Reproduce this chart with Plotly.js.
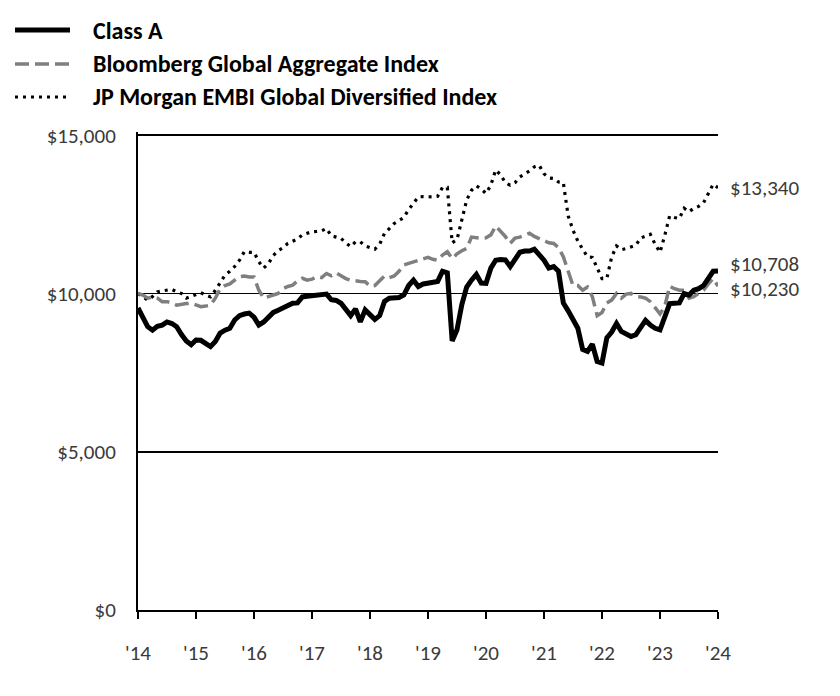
<!DOCTYPE html>
<html>
<head>
<meta charset="utf-8">
<script src="https://cdn.plot.ly/plotly-3.0.1.min.js"></script>
<style>html,body{margin:0;padding:0;background:#fff;}#chart{width:840px;height:696px;}</style>
</head>
<body>
<div id="chart"></div>
<script>
// Tick labels (one per year, 12 months apart)
const yearLabels = ["'14","'15","'16","'17","'18","'19","'20","'21","'22","'23","'24"];
const yTickVals = [0, 5000, 10000, 15000];
const yTickText = ["$0", "$5,000", "$10,000", "$15,000"];
const seriesNames = ["Class A", "Bloomberg Global Aggregate Index", "JP Morgan EMBI Global Diversified Index"];

// Growth of $10,000, monthly, Jan 2014 to Jan 2024
const classA = [
9540,9250,8950,8840,8960,9000,9100,9050,8950,8700,8500,8380,
8530,8520,8400,8320,8480,8750,8840,8900,9160,9300,9350,9380,
9250,9000,9100,9230,9400,9470,9550,9630,9690,9700,9890,9910,
9930,9950,9960,9980,9800,9780,9690,9500,9300,9510,9100,9480,
9350,9180,9300,9750,9850,9880,9870,9950,10250,10420,10220,10300,
10340,10370,10380,10700,10650,8500,8850,9650,10200,10420,10600,10330,
10320,10800,11050,11070,11060,10850,11050,11300,11340,11340,11400,11250,
11050,10800,10850,10700,9700,9450,9150,8900,8230,8170,8400,7850,
7800,8600,8780,9050,8800,8700,8640,8700,8950,9150,9000,8900,
8850,9300,9680,9690,9700,10000,9950,10100,10150,10250,10470,10700,
10708];

const bloomberg = [
10000,9950,9850,9880,9850,9740,9740,9700,9630,9660,9680,9690,
9640,9580,9600,9630,9850,10150,10250,10300,10420,10530,10550,10520,
10520,10100,9850,9890,9950,10000,10150,10220,10260,10400,10480,10420,
10450,10530,10500,10630,10560,10650,10560,10470,10420,10390,10380,10370,
10230,10250,10400,10550,10500,10550,10700,10900,10950,11000,11050,11100,
11140,11080,11050,11210,11320,11100,11250,11350,11420,11780,11760,11740,
11760,11850,12130,11980,11800,11580,11750,11780,11850,11900,11800,11730,
11650,11600,11580,11450,11160,10700,10250,10250,10100,10200,9900,9300,
9400,9700,9790,10000,9850,9980,10000,9900,9890,9850,9740,9550,
9350,9600,10230,10150,10100,10100,9850,9900,10000,10100,10300,10470,
10230];

const jpMorgan = [
10000,9900,9790,9900,10050,10080,10100,10130,10050,10000,9850,9900,
9950,10020,9950,9890,10100,10350,10580,10700,10850,11050,11320,11300,
11300,11000,10800,10950,11200,11350,11440,11580,11650,11720,11850,11900,
11950,11960,11980,12050,11820,11780,11740,11600,11480,11630,11630,11500,
11450,11400,11550,11900,12050,12210,12300,12400,12650,12840,13050,13060,
13050,13050,13070,13350,13350,11600,11700,12300,12950,13260,13400,13300,
13160,13420,13900,13750,13500,13420,13500,13680,13780,13870,14000,14050,
13780,13650,13630,13520,13500,12450,12000,11650,11400,11160,11140,10790,
10470,10470,11150,11500,11380,11420,11470,11520,11750,11800,11870,11550,
11300,11840,12450,12400,12370,12690,12580,12690,12750,12860,13160,13450,
13340];

const months = classA.map((_, i) => i);
const tickVals = yearLabels.map((_, i) => i * 12);
const endLabels = ["$10,708", "$10,230", "$13,340"];

const FONT = "Carlito, Lato, 'Open Sans', sans-serif";
const TXT = '#3a3a3a';

const traces = [
  {x: months, y: jpMorgan, name: seriesNames[2], type: 'scatter', mode: 'lines',
   line: {color: '#000000', width: 3.2, dash: '3px,5px'}},
  {x: months, y: bloomberg, name: seriesNames[1], type: 'scatter', mode: 'lines',
   line: {color: '#7f7f7f', width: 3.5, dash: '14px,6px'}},
  {x: months, y: classA, name: seriesNames[0], type: 'scatter', mode: 'lines',
   line: {color: '#000000', width: 5}}
];

// Manual legend (paper coords: plot spans px 138..718, 132..610)
const plotTop = 132, plotBottom = 610;
const px = v => (v - 138) / 580;
const py = v => (plotBottom - v) / (plotBottom - plotTop);
const legendRows = [
  {y: 30, color: '#000000', width: 5, dash: 'solid', text: seriesNames[0]},
  {y: 64, color: '#7f7f7f', width: 3.5, dash: '14px,6px', text: seriesNames[1]},
  {y: 97, color: '#000000', width: 3.2, dash: '3px,5px', text: seriesNames[2]}
];
const shapes = legendRows.map(r => ({
  type: 'line', xref: 'paper', yref: 'paper',
  x0: px(15), x1: px(70), y0: py(r.y), y1: py(r.y),
  line: {color: r.color, width: r.width, dash: r.dash}
}));
const annotations = legendRows.map(r => ({
  xref: 'paper', yref: 'paper', x: px(91), y: py(r.y), xanchor: 'left', yanchor: 'middle',
  text: '<b>' + r.text + '</b>', showarrow: false,
  font: {family: FONT, size: 24, color: '#000000'}
}));
const last = months.length - 1;
const endValues = [classA[last], bloomberg[last], jpMorgan[last]];
const endShift = [7, -3, 0];
endLabels.forEach((t, k) => annotations.push({
  x: months[last], y: endValues[k], xref: 'x', yref: 'y', xanchor: 'left', yanchor: 'middle',
  xshift: 10, yshift: endShift[k], text: t, showarrow: false,
  font: {family: FONT, size: 21, color: TXT}
}));

const layout = {
  width: 840, height: 696,
  margin: {l: 138, r: 122, t: plotTop, b: 696 - plotBottom},
  paper_bgcolor: '#ffffff', plot_bgcolor: '#ffffff',
  showlegend: false,
  font: {family: FONT, size: 21, color: TXT},
  xaxis: {
    range: [0, 120], tickvals: tickVals, ticktext: yearLabels,
    showgrid: false, zeroline: false, showline: true, linecolor: '#000000', linewidth: 2,
    ticks: 'outside', ticklen: 7, tickwidth: 2, tickcolor: '#000000',
    ticklabelstandoff: 16, tickfont: {family: FONT, size: 21, color: TXT}
  },
  yaxis: {
    range: [0, 15100], tickvals: yTickVals, ticktext: yTickText,
    showgrid: true, gridcolor: '#000000', gridwidth: 1.6, zeroline: false,
    showline: true, linecolor: '#000000', linewidth: 2, ticks: '',
    ticklabelstandoff: 16, tickfont: {family: FONT, size: 21, color: TXT}
  },
  shapes: shapes,
  annotations: annotations
};

Plotly.newPlot('chart', traces, layout, {displayModeBar: false, staticPlot: true});
</script>
</body>
</html>
